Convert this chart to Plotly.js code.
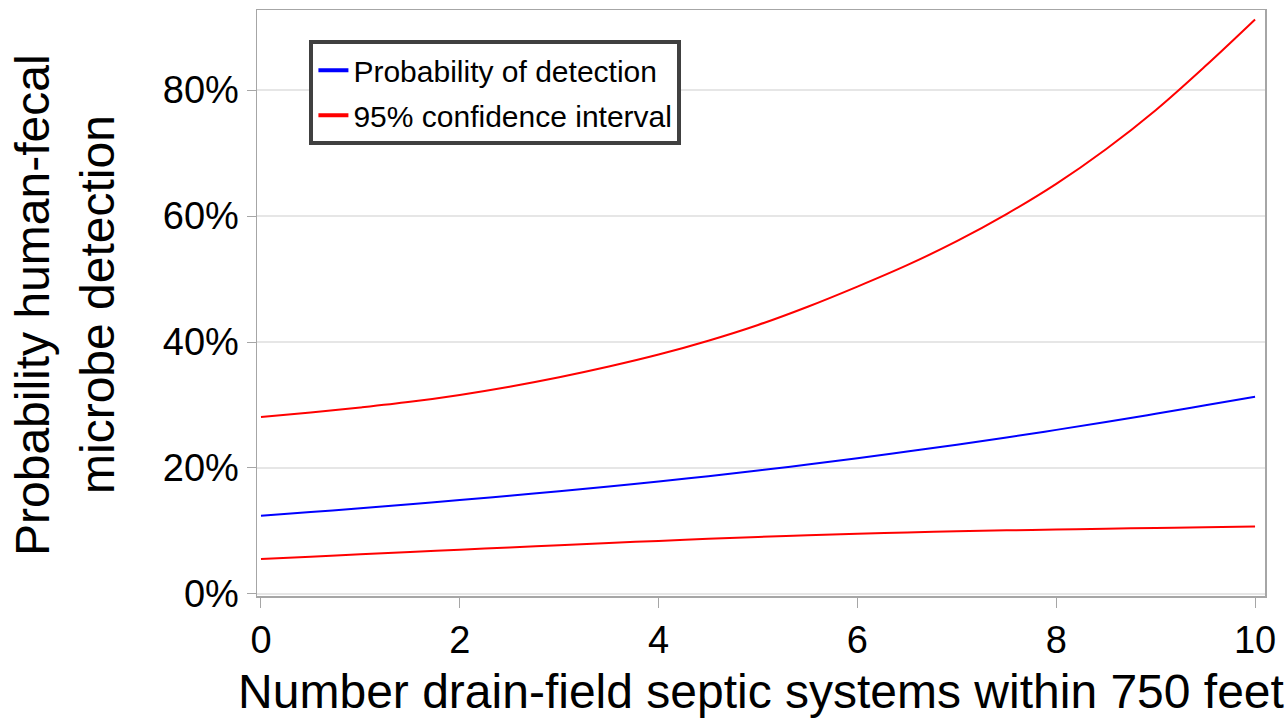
<!DOCTYPE html>
<html>
<head>
<meta charset="utf-8">
<script src="https://cdn.plot.ly/plotly-3.0.1.min.js"></script>
<style>html,body{margin:0;padding:0;background:#fff;}#chart{width:1288px;height:724px;}</style>
</head>
<body>
<div id="chart"></div>
<script>
// Number of drain-field septic systems within 750 feet
const septicCount = [0, 0.5, 1, 1.5, 2, 2.5, 3, 3.5, 4, 4.5, 5, 5.5, 6, 6.5, 7, 7.5, 8, 8.5, 9, 9.5, 10];
// Probability of detection (%)
const probDetection = [12.4, 13.0, 13.6, 14.25, 14.9, 15.6, 16.3, 17.05, 17.85, 18.7, 19.6, 20.55, 21.55, 22.6, 23.7, 24.85, 26.05, 27.3, 28.6, 29.95, 31.3];
// 95% confidence interval, upper bound (%)
const ciUpper = [28.1, 28.8, 29.6, 30.5, 31.6, 32.9, 34.4, 36.1, 38.0, 40.2, 42.7, 45.6, 48.8, 52.2, 56.0, 60.3, 65.1, 70.6, 76.8, 83.8, 91.2];
// 95% confidence interval, lower bound (%)
const ciLower = [5.55, 5.93, 6.3, 6.67, 7.03, 7.39, 7.75, 8.1, 8.43, 8.75, 9.05, 9.32, 9.56, 9.77, 9.95, 10.1, 10.23, 10.36, 10.48, 10.6, 10.7];
const yTickVals = [0, 20, 40, 60, 80];
const yTickText = ['0%', '20%', '40%', '60%', '80%'];
const xTickVals = [0, 2, 4, 6, 8, 10];
const seriesNames = ['Probability of detection', '95% confidence interval'];

const traces = [
  {x: septicCount, y: probDetection, mode: 'lines', name: seriesNames[0],
   line: {color: '#0000ff', width: 2, shape: 'spline', smoothing: 1}, showlegend: false},
  {x: septicCount, y: ciUpper, mode: 'lines', name: seriesNames[1],
   line: {color: '#ff0000', width: 2, shape: 'spline', smoothing: 1}, showlegend: false},
  {x: septicCount, y: ciLower, mode: 'lines', name: seriesNames[1],
   line: {color: '#ff0000', width: 2, shape: 'spline', smoothing: 1}, showlegend: false},
  // legend entries (thicker key lines, as in the original legend)
  {x: [null], y: [null], mode: 'lines', name: seriesNames[0], legendgroup: 'p',
   line: {color: '#0000ff', width: 4}, showlegend: true},
  {x: [null], y: [null], mode: 'lines', name: seriesNames[1], legendgroup: 'ci',
   line: {color: '#ff0000', width: 4}, showlegend: true}
];

const layout = {
  width: 1288, height: 724,
  margin: {l: 257, r: 23, t: 10, b: 128},
  paper_bgcolor: '#ffffff', plot_bgcolor: '#ffffff',
  font: {family: 'Liberation Sans, Arial, sans-serif', color: '#000000'},
  xaxis: {
    range: [-0.04, 10.1], tickvals: xTickVals, ticks: 'outside', ticklen: 10, tickcolor: '#a6a6a6',
    showline: true, mirror: true, linecolor: '#a6a6a6', linewidth: 1.5, showgrid: false, zeroline: false,
    tickfont: {size: 38, family: 'Liberation Sans, Arial, sans-serif'},
    title: {text: 'Number drain-field septic systems within 750 feet', font: {size: 48}, standoff: 14}
  },
  yaxis: {
    range: [-0.32, 92.7], tickvals: yTickVals, ticktext: yTickText, ticks: 'outside', ticklen: 9, tickcolor: '#a6a6a6',
    showline: true, mirror: true, linecolor: '#a6a6a6', linewidth: 1.5,
    showgrid: true, gridcolor: '#e6e6e6', gridwidth: 1.5, zeroline: false,
    tickfont: {size: 38, family: 'Liberation Sans, Arial, sans-serif'}
  },
  legend: {
    x: 0.052, y: 0.9484, xanchor: 'left', yanchor: 'top',
    bgcolor: '#ffffff', bordercolor: '#404040', borderwidth: 4,
    font: {size: 30, family: 'Liberation Sans, Arial, sans-serif', color: '#000000'},
    tracegroupgap: 3
  },
  annotations: [
    {text: 'Probability human-fecal', xref: 'paper', yref: 'paper', x: 0, y: 0.5, xanchor: 'center', yanchor: 'middle',
     xshift: -225, yshift: -2, textangle: -90, showarrow: false, font: {size: 48}},
    {text: 'microbe detection', xref: 'paper', yref: 'paper', x: 0, y: 0.5, xanchor: 'center', yanchor: 'middle',
     xshift: -160, yshift: -2, textangle: -90, showarrow: false, font: {size: 48}}
  ],
  showlegend: true
};

Plotly.newPlot('chart', traces, layout, {displayModeBar: false, staticPlot: true});
</script>
</body>
</html>
